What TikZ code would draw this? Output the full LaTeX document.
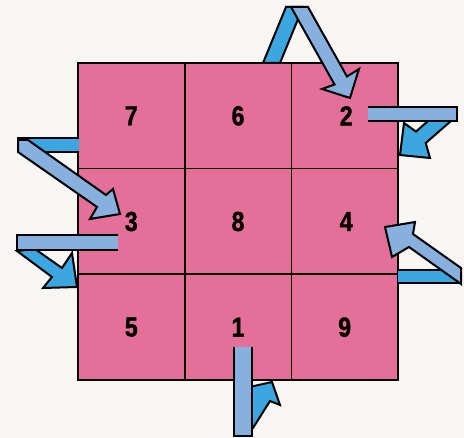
\documentclass[tikz,border=0pt]{standalone}
\usepackage{fontspec}
\setmainfont{Liberation Sans}[FakeStretch=0.84, BoldFeatures={FakeBold=1.2}]
\usepackage{tikz}
\usetikzlibrary{positioning}
\definecolor{papel}{RGB}{248,246,242}
\definecolor{rosa}{RGB}{228,112,154}
\definecolor{azulclaro}{RGB}{136,176,222}
\definecolor{azulvivo}{RGB}{60,166,224}

\begin{document}
\begin{tikzpicture}[
    x=1pt, y=-1pt,
    cell/.style={rectangle, draw=black, line width=1.7pt, fill=rosa,
      minimum width=106.7pt, minimum height=105.7pt, outer sep=0pt,
      font=\fontsize{27.5}{27.5}\selectfont\bfseries},
    face/.style={draw=black, line width=2pt, line join=miter},
    front/.style={face, fill=azulclaro},
    back/.style={face, fill=azulvivo}
  ]
    \fill[papel] (0,0) rectangle (464,438);
    \useasboundingbox (0,0) rectangle (464,438);

    % the square
    \node[cell] (c7) at (131.3,115.8) {7};
    \node[cell, right=0pt of c7] (c6) {6};
    \node[cell, right=0pt of c6] (c2) {\hspace*{3pt}2};
    \node[cell, below=0pt of c7] (c3) {3};
    \node[cell, right=0pt of c3] (c8) {8};
    \node[cell, right=0pt of c8] (c4) {\hspace*{3pt}4};
    \node[cell, below=0pt of c3] (c5) {5};
    \node[cell, right=0pt of c5] (c1) {1};
    \node[cell, right=0pt of c1] (c9) {9};

    % out of 1, bottom
    \draw[back] (245,388) -- (272,382) -- (280,405) -- (270,401) -- (253,428) -- (245,428) -- cycle;
    \fill[azulclaro] (233.5,347) rectangle (251.5,436);
    \draw[face] (233.5,347) -- (233.5,436) -- (251.5,436) -- (251.5,347);

    % in at the top, to 2
    \draw[back] (263,63) -- (286,7) -- (303,7) -- (280,63) -- cycle;
    \draw[front] (291,7) -- (308,7) -- (347,76.5) -- (359,69) -- (350,98) -- (322,89) -- (334.5,84.5) -- cycle;

    % out of 2, right
    \draw[back] (428,121) -- (451,121) -- (425.7,143) -- (430,158) -- (400,155) -- (404,123) -- (416,131.6) -- cycle;
    \fill[azulclaro] (368,107) rectangle (457,121);
    \draw[face] (368,107) -- (457,107) -- (457,121) -- (368,121);

    % in at the left, to 3
    \fill[azulvivo] (18,138) rectangle (79,152);
    \draw[face] (79,138) -- (18,138) -- (18,152) -- (79,152);
    \draw[front] (18,140) -- (28,140) -- (106,195) -- (113,189) -- (120,214) -- (90,219) -- (97,207) -- (18,152) -- cycle;

    % out of 3, left
    \draw[back] (17,251) -- (35,249) -- (62,268) -- (72,253) -- (77,287) -- (43,288) -- (52,277) -- cycle;
    \fill[azulclaro] (17,235) rectangle (118,250);
    \draw[face] (118,235) -- (17,235) -- (17,250) -- (118,250);

    % in at the right, to 4
    \fill[azulvivo] (398,270) rectangle (460,283);
    \draw[face] (398,270) -- (460,270) (398,283) -- (460,283);
    \draw[front] (461,284) -- (409,247) -- (392,257) -- (385,227) -- (415,222) -- (413,234) -- (461,268) -- cycle;
  \end{tikzpicture}
\end{document}
